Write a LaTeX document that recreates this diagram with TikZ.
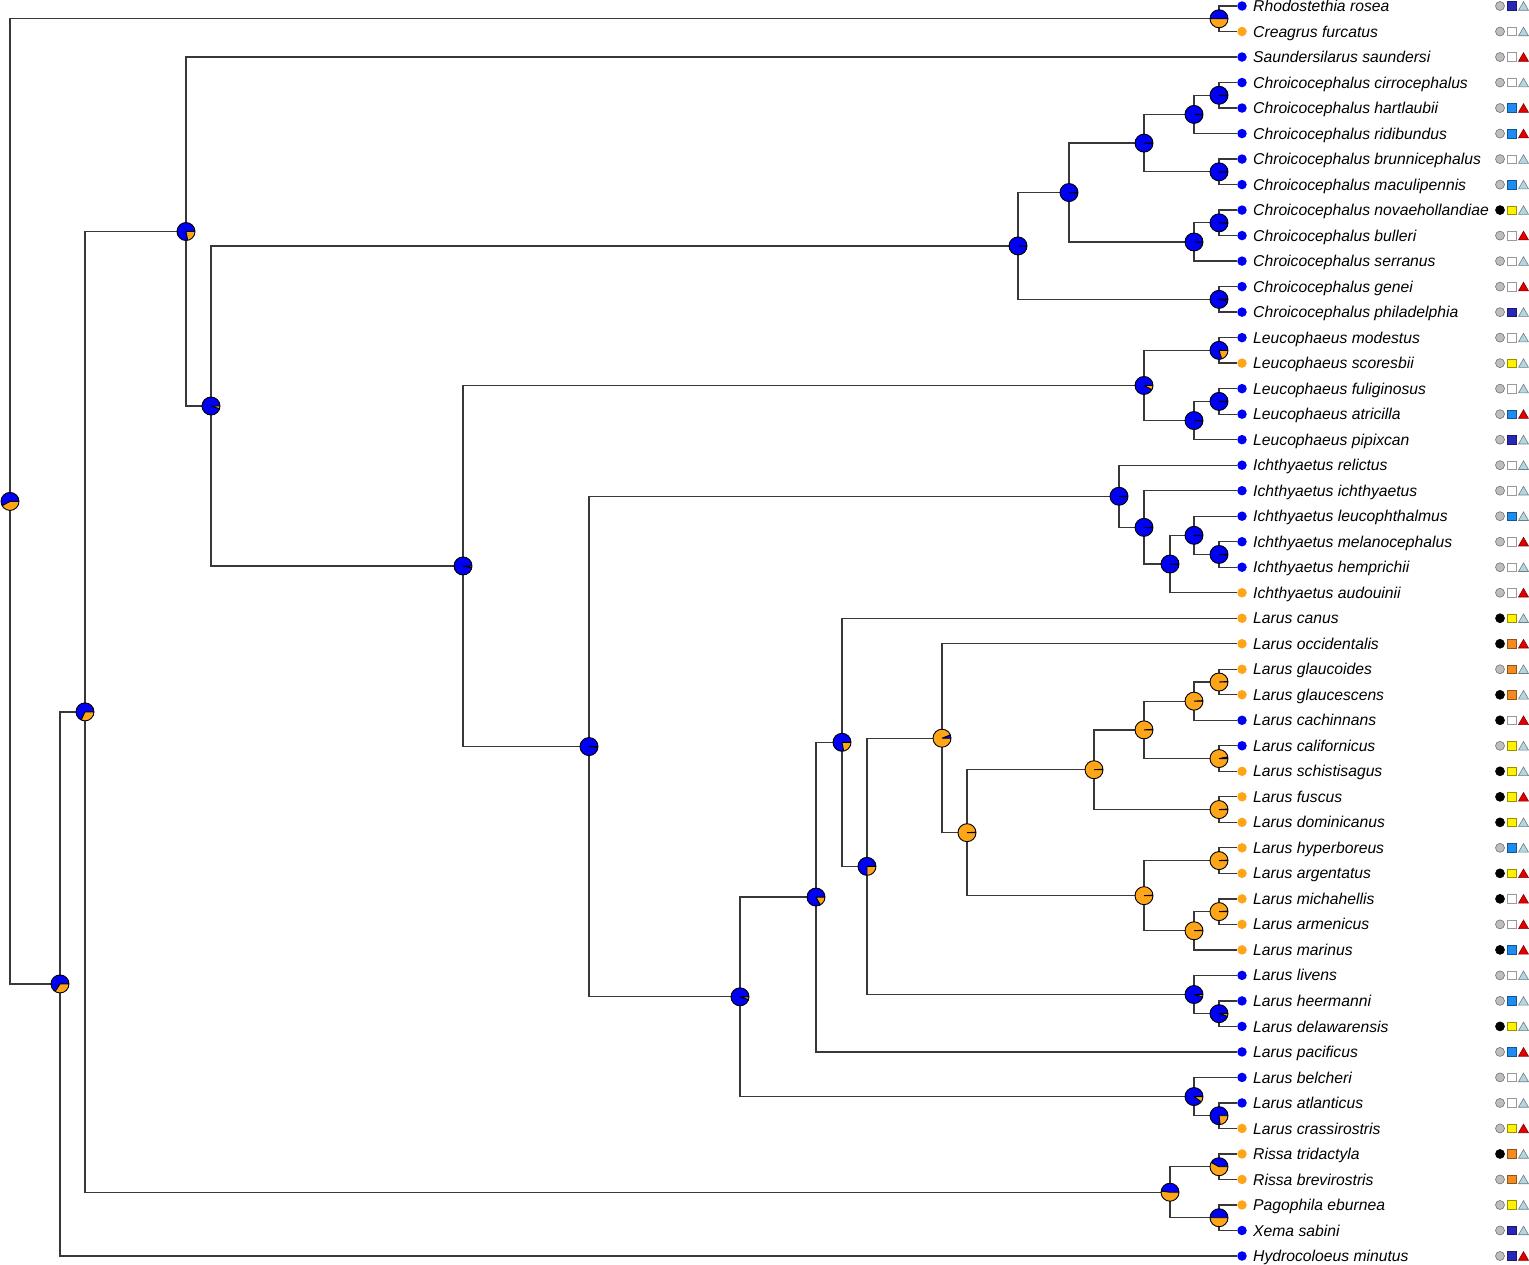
\documentclass[tikz,border=0pt]{standalone}
\usepackage{fontspec}
\setmainfont{Liberation Sans}
\usetikzlibrary{shapes.geometric,backgrounds}

\definecolor{pieB}{HTML}{0000F5}
\definecolor{pieO}{HTML}{FFA51A}
\definecolor{cG}{HTML}{BEBEBE}
\definecolor{cK}{HTML}{000000}
\definecolor{sW}{HTML}{FFFFFF}
\definecolor{sY}{HTML}{FFF200}
\definecolor{sO}{HTML}{F28C22}
\definecolor{sB}{HTML}{1E8CF0}
\definecolor{sD}{HTML}{2828B4}
\definecolor{tL}{HTML}{B4D6DE}
\definecolor{tR}{HTML}{E00000}

\tikzset{
  branch/.style={draw=black!78, line width=1.3pt},
  pieline/.style={draw=black, line width=0.9pt},
  tipdot/.style={circle, inner sep=0pt, minimum size=9.5pt},
  taxon/.style={anchor=west, inner sep=0pt, text height=11.2pt, text depth=0pt,
    font=\fontsize{15.7}{18}\selectfont\itshape},
  trcirc/.style={circle, inner sep=0pt, minimum size=9pt, line width=0.6pt},
  trsq/.style={rectangle, inner sep=0pt, minimum size=8.5pt, line width=0.6pt},
  trtri/.style={regular polygon, regular polygon sides=3, inner sep=0pt,
    minimum size=11.5pt, line width=0.6pt, yshift=-1.4pt}
}

% pie at a named coordinate, #2 = blue share
\newcommand{\nodepie}[2]{%
  \fill[pieO] (#1) circle[radius=9pt];
  \fill[pieB] (#1) -- ++(0:9pt) arc[start angle=0, end angle={#2*360}, radius=9pt] -- cycle;
  \draw[pieline] (#1) -- ++(0:9pt) (#1) -- ++({#2*360}:9pt) (#1) circle[radius=9pt];
}

\def\tiplist{Rhodostethia rosea/pieB/cG/sD/tL,
Creagrus furcatus/pieO/cG/sW/tL,
Saundersilarus saundersi/pieB/cG/sW/tR,
Chroicocephalus cirrocephalus/pieB/cG/sW/tL,
Chroicocephalus hartlaubii/pieB/cG/sB/tR,
Chroicocephalus ridibundus/pieB/cG/sB/tR,
Chroicocephalus brunnicephalus/pieB/cG/sW/tL,
Chroicocephalus maculipennis/pieB/cG/sB/tL,
Chroicocephalus novaehollandiae/pieB/cK/sY/tL,
Chroicocephalus bulleri/pieB/cG/sW/tR,
Chroicocephalus serranus/pieB/cG/sW/tL,
Chroicocephalus genei/pieB/cG/sW/tR,
Chroicocephalus philadelphia/pieB/cG/sD/tL,
Leucophaeus modestus/pieB/cG/sW/tL,
Leucophaeus scoresbii/pieO/cG/sY/tL,
Leucophaeus fuliginosus/pieB/cG/sW/tL,
Leucophaeus atricilla/pieB/cG/sB/tR,
Leucophaeus pipixcan/pieB/cG/sD/tL,
Ichthyaetus relictus/pieB/cG/sW/tL,
Ichthyaetus ichthyaetus/pieB/cG/sW/tL,
Ichthyaetus leucophthalmus/pieB/cG/sB/tL,
Ichthyaetus melanocephalus/pieB/cG/sW/tR,
Ichthyaetus hemprichii/pieB/cG/sW/tL,
Ichthyaetus audouinii/pieO/cG/sW/tR,
Larus canus/pieO/cK/sY/tL,
Larus occidentalis/pieO/cK/sO/tR,
Larus glaucoides/pieO/cG/sO/tL,
Larus glaucescens/pieO/cK/sO/tL,
Larus cachinnans/pieB/cK/sW/tR,
Larus californicus/pieB/cG/sY/tL,
Larus schistisagus/pieO/cK/sY/tL,
Larus fuscus/pieO/cK/sY/tR,
Larus dominicanus/pieO/cK/sY/tL,
Larus hyperboreus/pieO/cG/sB/tL,
Larus argentatus/pieO/cK/sY/tR,
Larus michahellis/pieO/cK/sW/tR,
Larus armenicus/pieO/cG/sW/tR,
Larus marinus/pieO/cK/sB/tR,
Larus livens/pieB/cG/sW/tL,
Larus heermanni/pieB/cG/sB/tL,
Larus delawarensis/pieB/cK/sY/tL,
Larus pacificus/pieB/cG/sB/tR,
Larus belcheri/pieB/cG/sW/tL,
Larus atlanticus/pieB/cG/sW/tL,
Larus crassirostris/pieO/cG/sY/tR,
Rissa tridactyla/pieO/cK/sO/tL,
Rissa brevirostris/pieO/cG/sO/tL,
Pagophila eburnea/pieO/cG/sY/tL,
Xema sabini/pieB/cG/sD/tL,
Hydrocoloeus minutus/pieB/cG/sD/tR}

\begin{document}
\begin{tikzpicture}[x=1pt, y=-25.51pt]
    \useasboundingbox (0,-0.2352) rectangle (1529,49.314);

    % tips, names and trait columns
    \foreach \lab/\dc/\ca/\cb/\cc [count=\i from 0] in \tiplist {
        \node[tipdot, fill=\dc] (t\i) at (1242,\i) {};
        \node[taxon] (lab\i) at (1253,\i) {\lab};
        \node[trcirc, fill=\ca, draw=\ca!60!black] (ca\i) at (1500,\i) {};
        \node[trsq, fill=\cb, draw=\cb!60!black] (cb\i) at (1512,\i) {};
        \node[trtri, fill=\cc, draw=\cc!60!black] (cc\i) at (1523.5,\i) {};
    }

    % internal nodes
    \coordinate (root) at (10,19.42);
    \coordinate (rc) at (1219,0.5);
    \coordinate (n60) at (60,38.335);
    \coordinate (n85) at (85,27.67);
    \coordinate (rpx) at (1170,46.5);
    \coordinate (ri) at (1219,45.5);
    \coordinate (px) at (1219,47.5);
    \coordinate (n186) at (186,8.84);
    \coordinate (n211) at (211,15.68);
    \coordinate (chr) at (1018,9.406);
    \coordinate (c1069) at (1069,7.3125);
    \coordinate (c1144) at (1144,5.375);
    \coordinate (c1194a) at (1194,4.25);
    \coordinate (ch) at (1219,3.5);
    \coordinate (bm) at (1219,6.5);
    \coordinate (c1194b) at (1194,9.25);
    \coordinate (nb) at (1219,8.5);
    \coordinate (gp) at (1219,11.5);
    \coordinate (n463) at (463,21.95);
    \coordinate (leu) at (1144,14.875);
    \coordinate (ms) at (1219,13.5);
    \coordinate (l1194) at (1194,16.25);
    \coordinate (fa) at (1219,15.5);
    \coordinate (n589) at (589,29.03);
    \coordinate (ich) at (1119,19.219);
    \coordinate (i1144) at (1144,20.4375);
    \coordinate (i1170) at (1170,21.875);
    \coordinate (i1194) at (1194,20.75);
    \coordinate (mh) at (1219,21.5);
    \coordinate (n740) at (740,38.84);
    \coordinate (bel) at (1194,42.75);
    \coordinate (ac) at (1219,43.5);
    \coordinate (n816) at (816,34.93);
    \coordinate (n842) at (842,28.863);
    \coordinate (n867) at (867,33.727);
    \coordinate (liv) at (1194,38.75);
    \coordinate (hd) at (1219,39.5);
    \coordinate (n942) at (942,28.703);
    \coordinate (n967) at (967,32.406);
    \coordinate (n1094) at (1094,29.9375);
    \coordinate (g1144) at (1144,28.375);
    \coordinate (g1194) at (1194,27.25);
    \coordinate (gg) at (1219,26.5);
    \coordinate (cs) at (1219,29.5);
    \coordinate (fd) at (1219,31.5);
    \coordinate (a1144) at (1144,34.875);
    \coordinate (ha) at (1219,33.5);
    \coordinate (a1194) at (1194,36.25);
    \coordinate (ma) at (1219,35.5);

    % branches
    \begin{scope}[on background layer]
    \foreach \a/\b in {root/rc, root/n60, rc/t0, rc/t1, n60/n85, n60/t49,
        n85/n186, n85/rpx, rpx/ri, rpx/px, ri/t45, ri/t46, px/t47, px/t48,
        n186/t2, n186/n211, n211/chr, n211/n463, chr/c1069, chr/gp,
        gp/t11, gp/t12, c1069/c1144, c1069/c1194b, c1144/c1194a, c1144/bm,
        c1194a/ch, c1194a/t5, ch/t3, ch/t4, bm/t6, bm/t7,
        c1194b/nb, c1194b/t10, nb/t8, nb/t9,
        n463/leu, n463/n589, leu/ms, leu/l1194, ms/t13, ms/t14,
        l1194/fa, l1194/t17, fa/t15, fa/t16,
        n589/ich, n589/n740, ich/t18, ich/i1144, i1144/t19, i1144/i1170,
        i1170/i1194, i1170/t23, i1194/t20, i1194/mh, mh/t21, mh/t22,
        n740/n816, n740/bel, bel/t42, bel/ac, ac/t43, ac/t44,
        n816/n842, n816/t41, n842/t24, n842/n867, n867/n942, n867/liv,
        liv/t38, liv/hd, hd/t39, hd/t40, n942/t25, n942/n967,
        n967/n1094, n967/a1144, n1094/g1144, n1094/fd, fd/t31, fd/t32,
        g1144/g1194, g1144/cs, cs/t29, cs/t30, g1194/gg, g1194/t28,
        gg/t26, gg/t27, a1144/ha, a1144/a1194, ha/t33, ha/t34,
        a1194/ma, a1194/t37, ma/t35, ma/t36}
        \draw[branch] (\a) |- (\b);
    \end{scope}

    % pies
    \foreach \p/\f in {root/0.58, rc/0.5, n60/0.66, n85/0.68, rpx/0.48,
        ri/0.42, px/0.5, n186/0.78, n211/0.95, chr/0.99, c1069/0.99,
        c1144/0.99, c1194a/0.99, ch/0.99, bm/0.99, c1194b/0.99, nb/0.99,
        gp/0.97, n463/0.97, leu/0.92, ms/0.8, l1194/0.99, fa/0.99,
        n589/0.985, ich/0.99, i1144/0.99, i1170/0.99, i1194/0.99, mh/0.99,
        n740/0.95, bel/0.9, ac/0.77, n816/0.83, n842/0.78, n867/0.75,
        liv/0.96, hd/0.95, n942/0.06, n967/0.01, n1094/0.01, g1144/0.01,
        g1194/0.01, gg/0.01, cs/0.03, fd/0.01, a1144/0.01, ha/0.01,
        a1194/0.01, ma/0.01}
        \nodepie{\p}{\f};
\end{tikzpicture}
\end{document}
